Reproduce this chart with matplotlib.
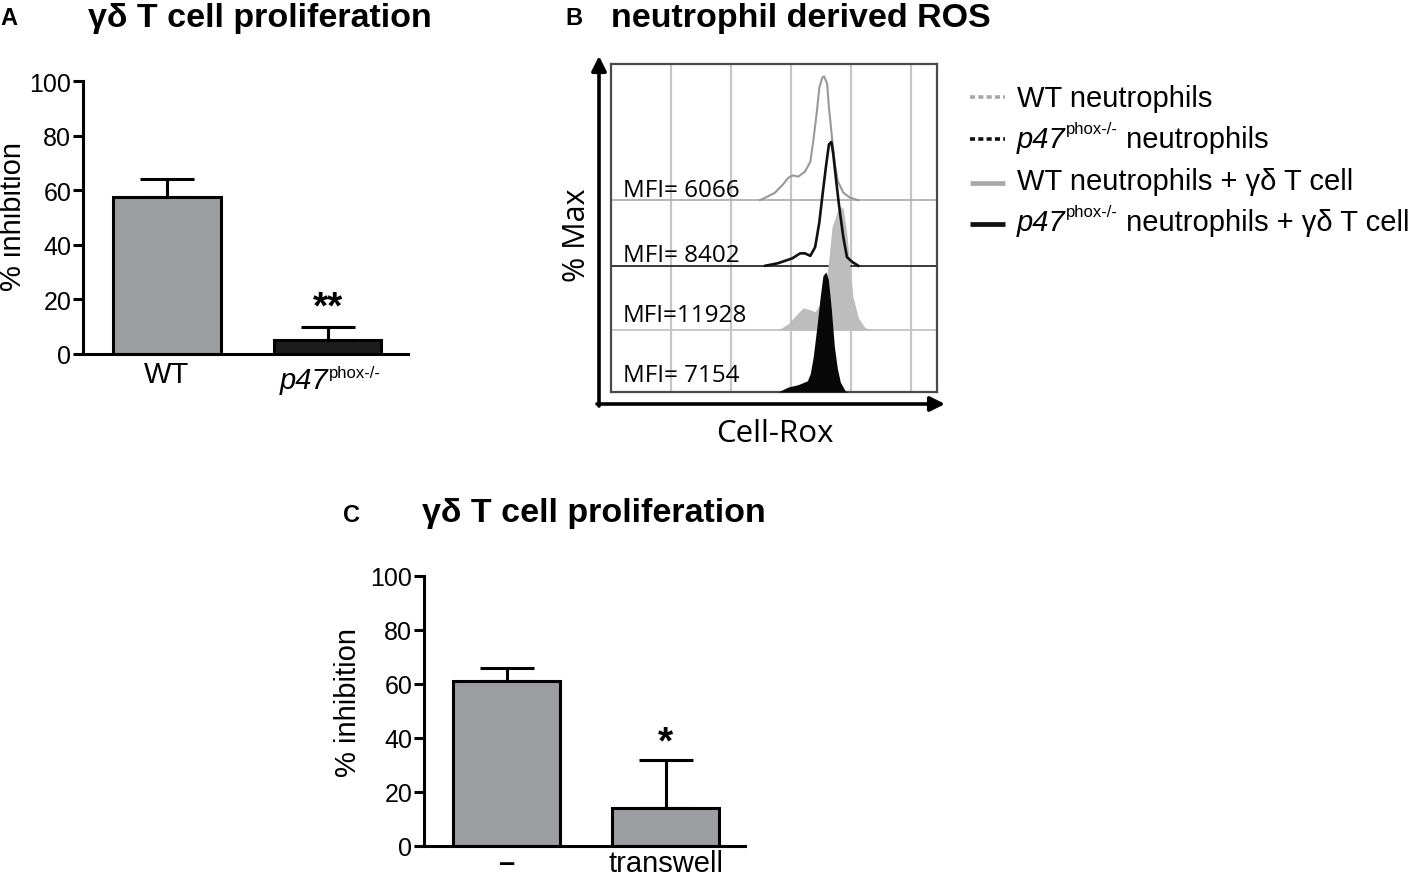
import matplotlib
matplotlib.use("Agg")
import matplotlib.pyplot as plt

plt.rcParams["font.family"] = ["Liberation Sans", "DejaVu Sans"]

W, H = 1418, 878

# panel A: gd T cell proliferation with WT or p47phox-/- neutrophils
a_groups = ["WT", "p47"]
a_means = [57.5, 5.0]
a_sem = [6.5, 5.0]

# panel C: direct contact vs transwell
c_groups = ["–", "transwell"]
c_means = [61.0, 14.0]
c_sem = [5.0, 18.0]

inhib_ticks = [0, 20, 40, 60, 80, 100]

# panel B: Cell-Rox histograms, x = log decade, y = % of max
wt_x = [2.48, 2.57, 2.73, 2.87, 2.95, 3.03, 3.12, 3.23, 3.32, 3.37, 3.43, 3.47, 3.52,
        3.55, 3.60, 3.63, 3.68, 3.73, 3.78, 3.87, 3.98, 4.12]
wt_y = [0, 2, 6, 13, 18, 20, 19, 23, 31, 48, 72, 91, 99, 100, 94, 75, 51, 29, 15, 6, 2, 0]
p47_x = [2.57, 2.78, 3.02, 3.15, 3.23, 3.32, 3.40, 3.47, 3.52, 3.58, 3.63, 3.67, 3.70,
         3.75, 3.80, 3.87, 3.93, 4.02, 4.12]
p47_y = [0, 2, 6, 10, 10, 8, 15, 35, 56, 80, 98, 100, 91, 69, 48, 23, 7, 3, 0]
wt_gd_x = [2.78, 2.95, 3.10, 3.20, 3.28, 3.40, 3.48, 3.57, 3.63, 3.68, 3.77, 3.82, 3.87,
           3.93, 3.98, 4.03, 4.12, 4.23, 4.35]
wt_gd_y = [0, 5, 13, 18, 17, 15, 21, 33, 58, 83, 96, 100, 98, 77, 51, 27, 10, 2, 0]
p47_gd_x = [2.78, 2.95, 3.12, 3.27, 3.32, 3.37, 3.43, 3.48, 3.53, 3.58, 3.62, 3.67, 3.72,
            3.77, 3.82, 3.90, 3.95]
p47_gd_y = [0, 4, 6, 9, 15, 29, 53, 75, 94, 97, 91, 67, 37, 19, 8, 1, 0]
mfi_values = [6066, 8402, 11928, 7154]
decades = [1, 2, 3, 4, 5]

legend_rows = [
    ("", "WT neutrophils"),
    ("p47", " neutrophils"),
    ("", "WT neutrophils + γδ T cell"),
    ("p47", " neutrophils + γδ T cell"),
]


def axes_px(fig, left, top, right, bottom):
    return fig.add_axes([left / W, 1 - bottom / H, (right - left) / W, (bottom - top) / H])


def rich_text(ax, x, y, pieces, renderer):
    # pieces: (text, kwargs, rise in px)
    for s, kw, rise in pieces:
        t = ax.text(x, y - rise, s, ha="left", va="baseline", **kw)
        x += t.get_window_extent(renderer).width
    return x


def bar_panel(ax, means, sems, colors, labels):
    xs = list(range(len(means)))
    ax.errorbar(xs, means, yerr=[[0] * len(sems), sems], fmt="none", ecolor="black",
                elinewidth=2.2, capsize=19.5, capthick=2.2, zorder=1)
    ax.bar(xs, means, width=0.67, color=colors, edgecolor="black", linewidth=2.2, zorder=2)
    ax.set_xlim(-0.52, 1.5)
    ax.set_ylim(0, 100)
    ax.set_yticks(inhib_ticks)
    ax.set_xticks(xs)
    ax.set_xticklabels(labels)
    for s in ("top", "right"):
        ax.spines[s].set_visible(False)
    for s in ("left", "bottom"):
        ax.spines[s].set_linewidth(2.2)
    ax.tick_params(axis="y", length=7, width=2.2, pad=1.5, labelsize=18)
    ax.tick_params(axis="x", length=0, labelsize=21, pad=4)
    ax.patch.set_alpha(0)


fig = plt.figure(figsize=(W / 100, H / 100), dpi=100)

# ---- A
ax_a = axes_px(fig, 83, 82, 408, 355)
bar_panel(ax_a, a_means, a_sem, ["#9c9da1", "#1c1c1c"], ["WT", ""])
ax_a.text(1, 17, "**", ha="center", va="center", fontsize=28, fontweight="bold")

# ---- C
ax_c = axes_px(fig, 424, 577, 745, 847)
bar_panel(ax_c, c_means, c_sem, ["#9c9da1", "#9c9da1"], c_groups)
ax_c.tick_params(axis="x", pad=2)
ax_c.get_xticklabels()[0].set_fontweight("bold")
ax_c.text(1, 38.5, "*", ha="center", va="center", fontsize=28, fontweight="bold")

# ---- B
ax_b = axes_px(fig, 611, 65, 937, 393)
ax_b.set_xlim(0, 5.43)
ax_b.set_ylim(0, 265)
ax_b.set_xticks([])
ax_b.set_yticks([])
for s in ax_b.spines.values():
    s.set_color("#4a4a4a")
    s.set_linewidth(1.6)
for d in decades:
    ax_b.axvline(d, color="#c6c6c6", lw=1.6, zorder=0)

offsets = [155, 102, 50, 0]
ax_b.axhline(offsets[0], color="#b0b0b0", lw=1.3, zorder=1)
ax_b.plot(wt_x, [offsets[0] + v for v in wt_y], color="#999999", lw=1.5, zorder=3)
ax_b.axhline(offsets[1], color="#2a2a2a", lw=1.3, zorder=1)
ax_b.fill_between(wt_gd_x, offsets[2], [offsets[2] + v for v in wt_gd_y],
                  color="#bdbdbd", lw=0, zorder=2)
ax_b.plot(p47_x, [offsets[1] + v for v in p47_y], color="#111111", lw=1.9, zorder=3)
ax_b.axhline(offsets[2], color="#c4c4c4", lw=1.3, zorder=1)
ax_b.fill_between(p47_gd_x, offsets[3], [offsets[3] + v for v in p47_gd_y],
                  color="#080808", lw=0, zorder=4)

# overlay in figure pixels for titles, labels, arrows and legend
ov = fig.add_axes([0, 0, 1, 1])
ov.set_xlim(0, W)
ov.set_ylim(H, 0)
ov.axis("off")
renderer = fig.canvas.get_renderer()

b_font = ["Open Sans", "DejaVu Sans"]
mfi_base = [197, 262, 322, 382]
for v, yb in zip(mfi_values, mfi_base):
    ov.text(623, yb, f"MFI={v:5d}", ha="left", va="baseline", fontsize=17.5, family=b_font)

ov.annotate("", xy=(599, 57), xytext=(599, 407),
            arrowprops=dict(arrowstyle="-|>", lw=2.6, color="black",
                            mutation_scale=22, shrinkA=0, shrinkB=0))
ov.annotate("", xy=(945, 405), xytext=(597, 405),
            arrowprops=dict(arrowstyle="-|>", lw=2.6, color="black",
                            mutation_scale=22, shrinkA=0, shrinkB=0))
ov.text(577, 235, "% Max", rotation=90, ha="center", va="center", fontsize=22, family=b_font)
ov.text(775, 442, "Cell-Rox", ha="center", va="baseline", fontsize=22.5, family=b_font)

# titles and panel letters
ov.text(0, 25, "A", ha="left", va="baseline", fontsize=17, fontweight="bold")
ov.text(88, 27, "γδ T cell proliferation", ha="left", va="baseline", fontsize=24.5, fontweight="bold")
ov.text(565, 25, "B", ha="left", va="baseline", fontsize=17, fontweight="bold")
ov.text(611, 27, "neutrophil derived ROS", ha="left", va="baseline", fontsize=24.5, fontweight="bold")
ov.text(343, 522, "C", ha="left", va="baseline", fontsize=17, fontweight="bold")
ov.text(422, 522, "γδ T cell proliferation", ha="left", va="baseline", fontsize=24.5, fontweight="bold")

ov.text(13, 217, "% inhibition", rotation=90, ha="center", va="center", fontsize=21)
ov.text(348, 703, "% inhibition", rotation=90, ha="center", va="center", fontsize=21)

# p47phox-/- tick label in A
rich_text(ov, 280, 389, [("p47", dict(fontsize=21, style="italic"), 0),
                         ("phox-/-", dict(fontsize=12), 11)], renderer)

# legend
leg_styles = [
    dict(color="#a8a8a8", lw=2.6, ls=(0, (1.4, 0.9))),
    dict(color="#111111", lw=2.6, ls=(0, (1.4, 0.9))),
    dict(color="#a8a8a8", lw=3.4, ls="-"),
    dict(color="#111111", lw=3.4, ls="-"),
]
line_y = [98, 140, 184, 225]
text_y = [107, 148, 190, 231]
for (ital, rest), st, ly, ty in zip(legend_rows, leg_styles, line_y, text_y):
    ov.plot([970, 1005], [ly, ly], solid_capstyle="butt", dash_capstyle="butt", **st)
    pieces = []
    if ital:
        pieces.append((ital, dict(fontsize=21, style="italic"), 0))
        pieces.append(("phox-/-", dict(fontsize=12), 14))
    pieces.append((rest, dict(fontsize=21), 0))
    rich_text(ov, 1017, ty, pieces, renderer)

fig.savefig("out.png", dpi=100)
